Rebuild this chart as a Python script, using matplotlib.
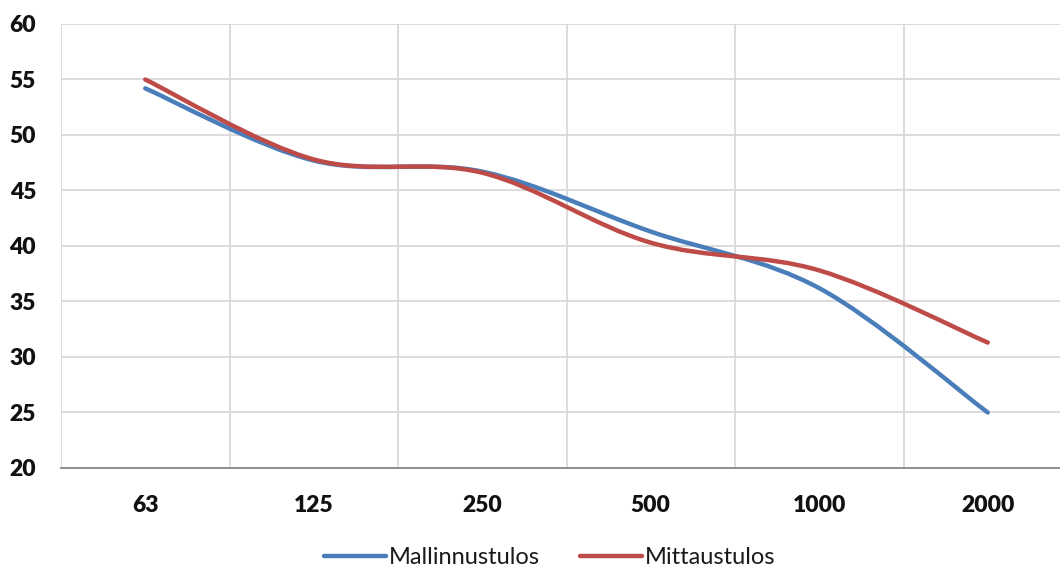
import matplotlib
matplotlib.use("Agg")
import matplotlib.pyplot as plt
from matplotlib.path import Path
from matplotlib.patches import PathPatch
from matplotlib.lines import Line2D

categories = ["63", "125", "250", "500", "1000", "2000"]
mallinnus = [54.2, 47.7, 46.7, 41.3, 36.2, 25.0]
mittaus = [55.0, 47.8, 46.6, 40.3, 37.8, 31.3]
y_ticks = [20, 25, 30, 35, 40, 45, 50, 55, 60]

BLUE = "#4A7EBB"
RED = "#BE4B48"
GRID = "#D9D9D9"

plt.rcParams['font.family'] = ['Lato', 'DejaVu Sans']

fig = plt.figure(figsize=(10.6, 5.7), dpi=100)
ax = fig.add_axes([61 / 1060, 102 / 570, (1072 - 61) / 1060, 444 / 570])


def smooth_path(xs, ys):
    """Excel-style smoothed line: Catmull-Rom cubic Bezier through points."""
    pts = list(zip(xs, ys))
    verts = [pts[0]]
    codes = [Path.MOVETO]
    n = len(pts)
    for i in range(n - 1):
        p0 = pts[i - 1] if i > 0 else pts[i]
        p1 = pts[i]
        p2 = pts[i + 1]
        p3 = pts[i + 2] if i + 2 < n else pts[i + 1]
        c1 = (p1[0] + (p2[0] - p0[0]) / 6, p1[1] + (p2[1] - p0[1]) / 6)
        c2 = (p2[0] - (p3[0] - p1[0]) / 6, p2[1] - (p3[1] - p1[1]) / 6)
        verts += [c1, c2, p2]
        codes += [Path.CURVE4] * 3
    return Path(verts, codes)


xs = list(range(len(categories)))
for vals, col in [(mallinnus, BLUE), (mittaus, RED)]:
    patch = PathPatch(smooth_path(xs, vals), facecolor="none", edgecolor=col,
                      lw=3.2, capstyle="round", joinstyle="round", zorder=3)
    ax.add_patch(patch)

ax.set_xlim(-0.5, len(categories) - 0.5)
ax.set_ylim(20, 60)
ax.set_yticks(y_ticks)
ax.set_yticklabels([str(v) for v in y_ticks])
ax.set_xticks(xs)
ax.set_xticklabels(categories)

# gridlines
for v in y_ticks[1:]:
    ax.axhline(v, color=GRID, lw=1.3, zorder=1)
for b in range(len(categories)):
    ax.axvline(b - 0.5, color=GRID, lw=1.3, zorder=1)

for s in ["top", "right", "left"]:
    ax.spines[s].set_visible(False)
ax.spines["bottom"].set_color("#868686")
ax.spines["bottom"].set_linewidth(1.3)

ax.tick_params(axis="both", length=0, colors="#111111")
ax.tick_params(axis="y", pad=18, labelsize=16.5)
ax.tick_params(axis="x", pad=19.5, labelsize=16.5)
for lab in ax.get_xticklabels() + ax.get_yticklabels():
    lab.set_fontweight("heavy")

handles = [Line2D([], [], color=BLUE, lw=3.2, solid_capstyle="round"),
           Line2D([], [], color=RED, lw=3.2, solid_capstyle="round")]
fig.legend(handles, ["Mallinnustulos", "Mittaustulos"], loc="center",
           bbox_to_anchor=(550 / 1060, 1 - 558 / 570), ncol=2, frameon=False,
           fontsize=17, handlelength=2.6, handletextpad=0.15, columnspacing=1.7,
           labelcolor="#1a1a1a")

fig.savefig("out.png", dpi=100)
